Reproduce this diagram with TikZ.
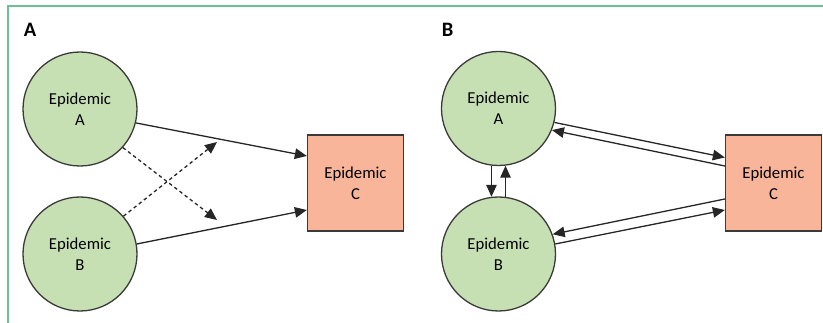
\documentclass[tikz,border=0pt]{standalone}
\usepackage{fontspec}
\setmainfont{Carlito}
\usetikzlibrary{arrows.meta,calc}
\definecolor{epigreen}{HTML}{C6E0B4}
\definecolor{episalmon}{HTML}{F8B59A}
\definecolor{framegreen}{HTML}{6DBF96}
\definecolor{edgegray}{HTML}{3A3A3A}
\tikzset{
  epicirc/.style={circle,draw=edgegray,fill=epigreen,line width=1.3pt,
    minimum size=114pt,inner sep=0pt,align=center,
    font=\fontsize{16.7}{21.4}\selectfont},
  episq/.style={rectangle,draw=edgegray,fill=episalmon,line width=1.3pt,
    minimum size=96pt,inner sep=0pt,align=center,
    font=\fontsize{16.7}{21.4}\selectfont},
  panel/.style={font=\fontsize{20.5}{24}\selectfont\bfseries},
  link/.style={draw=black!85,line width=1.3pt,-{Triangle[length=12pt,width=10.5pt]}},
  dlink/.style={link,dash pattern=on 3.5pt off 3pt},
}
\begin{document}
\begin{tikzpicture}[x=1pt,y=-1pt]
      \useasboundingbox (0,0) rectangle (823,323);
      \draw[framegreen,line width=1.6pt] (8,323) -- (8,6) -- (823,6);
      % panel A
      \node[panel] (aL) at (30,30) {A};
      \node[epicirc] (aA) at (80,109) {Epidemic\\A};
      \node[epicirc] (aB) at (80,254) {Epidemic\\B};
      \node[episq] (aC) at (355.5,183) {Epidemic\\C};
      \coordinate (aX1) at (217,220);
      \coordinate (aX2) at (217,142);
      % panel B
      \node[panel] (bL) at (447.5,30) {B};
      \node[epicirc] (bA) at (498.5,108.5) {Epidemic\\A};
      \node[epicirc] (bB) at (498.5,254) {Epidemic\\B};
      \node[episq] (bC) at (773.5,183) {Epidemic\\C};
      \begin{scope}
        \draw[link] (aA.-14) -- ($(aC.west)+(0,-27)$);
        \draw[link] (aB.10) -- ($(aC.west)+(0,27)$);
        \draw[dlink] (aA.-42) -- (aX1);
        \draw[dlink] (aB.41) -- (aX2);
        \draw[link] (bA.-14) -- ($(bC.west)+(0,-25.5)$);
        \draw[link] ($(bC.west)+(0,-17)$) -- (bA.-22);
        \draw[link] ($(bC.west)+(0,16)$) -- (bB.20);
        \draw[link] (bB.10) -- ($(bC.west)+(0,27)$);
        \draw[link] (bA.263) -- (bB.97);
        \draw[link] (bB.83) -- (bA.-83);
      \end{scope}
    \end{tikzpicture}
\end{document}
